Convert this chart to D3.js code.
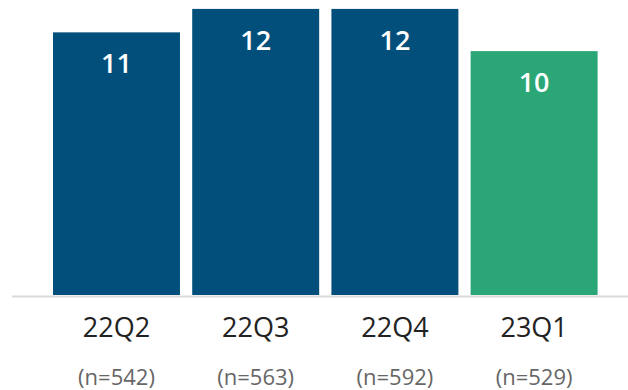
<!DOCTYPE html>
<html>
<head>
<meta charset="utf-8">
<script src="https://cdn.jsdelivr.net/npm/d3@7"></script>
<style>
  body { margin: 0; background: #fff; }
  svg { display: block; font-family: "Open Sans", "Noto Sans", sans-serif; }
</style>
</head>
<body>
<svg id="chart" width="628" height="390"></svg>
<script>
const quarters = ["22Q2", "22Q3", "22Q4", "23Q1"]
const sampleSizes = ["(n=542)", "(n=563)", "(n=592)", "(n=529)"]
const values = [11.2, 12.2, 12.2, 10.4]
const barColors = ["#024f7c", "#024f7c", "#024f7c", "#2ba676"]

const width = 628, height = 390
const baseY = 295

let svg = d3.select("#chart")

let x = d3.scaleBand()//one band per quarter
    .domain(quarters)
    .range([53, 597.6])
    .paddingInner(0.088)
    .paddingOuter(0)
let y = d3.scaleLinear()
    .domain([0, 12.58])
    .range([baseY, 0])

// bars
svg.selectAll("rect.bar")
    .data(values)
    .enter().append("rect")
    .attr("class", "bar")
    .attr("x", (d, i) => x(quarters[i]))
    .attr("y", d => y(d))
    .attr("width", x.bandwidth())
    .attr("height", d => baseY - y(d))
    .attr("fill", (d, i) => barColors[i])

// value labels inside the bars
svg.selectAll("text.val")
    .data(values)
    .enter().append("text")
    .attr("class", "val")
    .attr("x", (d, i) => x(quarters[i]) + x.bandwidth() / 2)
    .attr("y", d => y(d) + 41)
    .attr("text-anchor", "middle")
    .style("font-size", "27px")
    .style("font-weight", "600")
    .style("fill", "#fff")
    .text(d => d3.format(".0f")(d))

// baseline
svg.append("line")
    .attr("x1", 12).attr("x2", width)
    .attr("y1", baseY + 1.5).attr("y2", baseY + 1.5)
    .attr("stroke", "#d9d9d9")
    .attr("stroke-width", 2)

// x axis labels, two lines
let xAxis = d3.axisBottom(x).tickSize(0).tickPadding(0)
let ax = svg.append("g")
    .attr("transform", "translate(0," + baseY + ")")
    .call(xAxis)
ax.select(".domain").remove()
ax.selectAll(".tick text")
    .attr("y", 42)
    .attr("dy", 0)
    .style("font-family", "'Open Sans', 'Noto Sans', sans-serif")
    .style("font-size", "27px")
    .style("fill", "#222")
ax.selectAll(".tick").append("text")
    .attr("y", 90)
    .attr("text-anchor", "middle")
    .style("font-family", "'Open Sans', 'Noto Sans', sans-serif")
    .style("font-size", "22px")
    .style("fill", "#666")
    .text((d, i) => sampleSizes[i])
</script>
</body>
</html>
